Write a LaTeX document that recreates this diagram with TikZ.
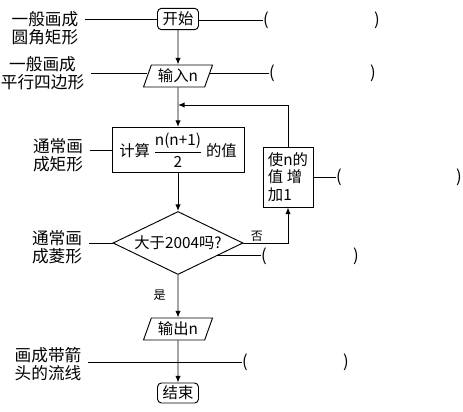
\documentclass[tikz,border=0pt]{standalone}
\usepackage{fontspec}
\setmainfont{Noto Sans CJK SC}
\usetikzlibrary{shapes.geometric,arrows.meta,calc}

\begin{document}
\begin{tikzpicture}
  [x=0.75pt,y=-0.75pt,line width=0.7pt,>={Latex[length=5pt,width=4pt]},
   every node/.style={font=\fontsize{11.5}{13}\selectfont,inner sep=1pt},
   term/.style={draw,rounded corners=3pt,minimum width=30.75pt,minimum height=16pt},
   io/.style={draw,trapezium,trapezium left angle=65,trapezium right angle=115,
     trapezium stretches body,minimum width=51.75pt,minimum height=16.5pt},
   proc/.style={draw,minimum width=99pt,minimum height=33.75pt},
   dec/.style={draw,diamond,aspect=2,inner sep=0pt,minimum width=97.5pt,minimum height=47.25pt},
   lab/.style={align=center,font=\fontsize{12.5}{13.5}\selectfont,inner xsep=5pt,inner ysep=1pt},
   par/.style={font=\fontsize{12.5}{14}\selectfont,inner sep=0pt},
   yn/.style={font=\fontsize{9}{10}\selectfont}]
  \useasboundingbox (0,0) rectangle (463,411);

  \node[term] (n1) at (178,19) {开始};
  \node[io] (n2) at (178,76) {输入n};
  \node[proc] (n3) at (178,150) {计算 $\displaystyle\frac{\mbox{n(n+1)}}{\mbox{2}}$ 的值};
  \node[dec] (n4) at (178,243) {大于2004吗?};
  \node[draw,minimum width=37.5pt,minimum height=45pt,align=left] (n5) at (288,177) {使n的\\值 增\\加1};
  \node[io] (n6) at (178,329) {输出n};
  \node[term,minimum height=15pt] (n7) at (178,393) {结束};
  \coordinate (c2) at (178,105);
  \coordinate (c4) at ($(n4.east)!0.4!(n4.south)$);

  \foreach \from/\to in {n1/n2,n2/n3,n3/n4,n6/n7}
    \draw[->] (\from) -- (\to);
  \draw[->] (n4) -- node[left=8pt,yn,pos=0.47] {是} (n6);
  \draw[->] (n4.east) -- node[above,yn,pos=0.3] {否} (n4.east -| n5.south) -- (n5.south);
  \draw[->] (n5.north) -- (n5.north |- c2) -- (c2);

  % Etiquetas a la izquierda y parentesis a la derecha
  \node[lab] (l1) at (45,28) {一般画成\\圆角矩形};
  \node[lab] (l2) at (42.5,73) {一般画成\\平行四边形};
  \node[lab] (l3) at (58,155) {通常画\\成矩形};
  \node[lab] (l4) at (57,247) {通常画\\成菱形};
  \node[lab] (l5) at (48,364) {画成带箭\\头的流线};

  \node[par] (a1) at (266,20) {(};  \node[par] (b1) at (377,20) {)};
  \node[par] (a2) at (272,73) {(};  \node[par] (b2) at (373,73) {)};
  \node[par] (a3) at (339,177) {(}; \node[par] (b3) at (459,177) {)};
  \node[par] (a4) at (264,256) {(}; \node[par] (b4) at (356,256) {)};
  \node[par] (a5) at (245,362) {(}; \node[par] (b5) at (346,362) {)};

  \foreach \from/\to in {l1/n1,l3/n3,l4/n4}
    \draw (\from.east |- \to.west) -- (\to.west);
  \draw (l2.east) -- (l2.east -| n2.west);
  \draw (l5.east |- a5.west) -- (a5.west);
  \foreach \from/\to in {n1/a1,n2/a2,n5/a3}
    \draw (\to.west -| \from.east) -- (\to.west);
  \draw (c4) -- (c4 -| a4.west);

\end{tikzpicture}
\end{document}
